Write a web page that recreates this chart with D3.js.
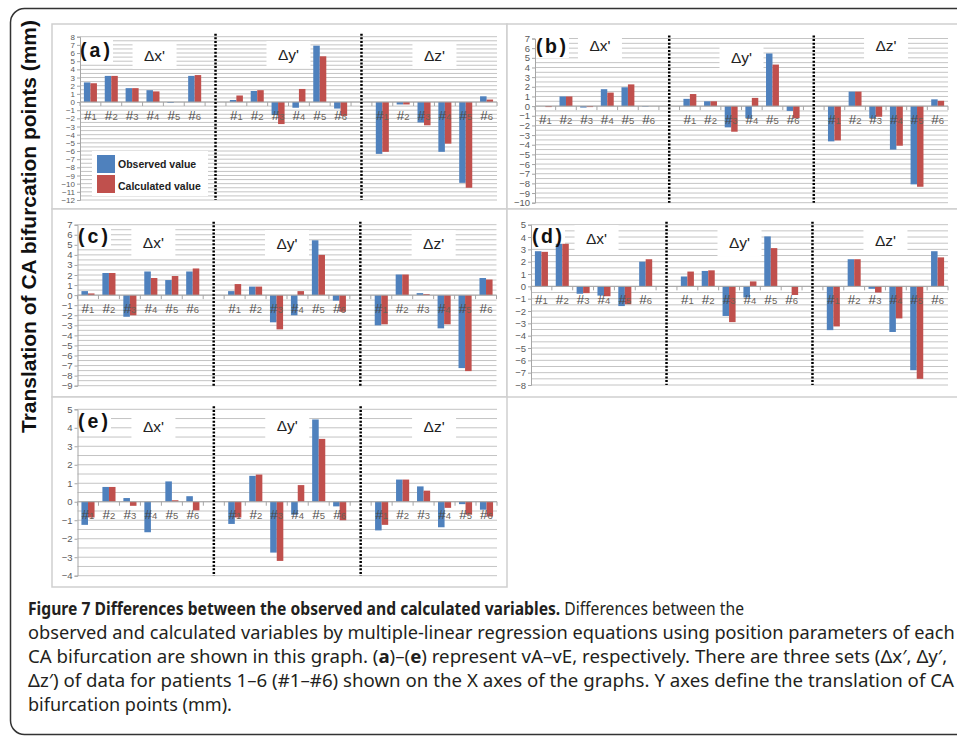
<!DOCTYPE html>
<html>
<head>
<meta charset="utf-8">
<title>Figure 7 - Observed vs calculated</title>
<script src="https://d3js.org/d3.v7.min.js"></script>
<style>
  body { margin: 0; background: #fff; }
  svg { display: block; }
  .tick text { fill: #595959; }
</style>
</head>
<body>
<svg id="fig" width="957" height="739"></svg>
<script>
  // ---- data ----
  const groups = ["Δx'", "Δy'", "Δz'"];
  const patients = ["1", "2", "3", "4", "5", "6"];
  const panelNames = ["(a)", "(b)", "(c)", "(d)", "(e)"];
  const seriesNames = ["Observed value", "Calculated value"];
  const yRanges = [[-12, 8], [-10, 7], [-9, 7], [-8, 5], [-4, 5]];

  // each array: Δx' #1-#6, Δy' #1-#6, Δz' #1-#6
  const observedA = [2.4, 3.2, 1.7, 1.45, -0.1, 3.2, 0.25, 1.35, -1.6, -0.7, 6.9, -0.8, -6.35, -0.3, -2.5, -6.1, -9.9, 0.7];
  const calculatedA = [2.3, 3.2, 1.7, 1.3, 0, 3.3, 0.8, 1.45, -2.7, 1.6, 5.6, -1.7, -6.1, -0.3, -2.85, -5.1, -10.5, 0.3];
  const observedB = [0, 1.0, -0.15, 1.75, 1.95, -0.05, 0.75, 0.5, -2.2, -1.25, 5.45, -0.5, -3.65, 1.5, -1.25, -4.5, -8.1, 0.7];
  const calculatedB = [-0.1, 1.0, -0.1, 1.4, 2.25, 0, 1.25, 0.5, -2.65, 0.85, 4.3, -1.25, -3.55, 1.5, -1.1, -4.1, -8.35, 0.55];
  const observedC = [0.4, 2.2, -2.15, 2.35, 1.5, 2.35, 0.4, 0.85, -2.7, -2.0, 5.45, -0.55, -3.0, 2.05, 0.2, -3.3, -7.25, 1.7];
  const calculatedC = [0.17, 2.2, -2.0, 1.7, 1.9, 2.65, 1.1, 0.85, -3.4, 0.4, 4.0, -1.65, -2.9, 2.05, 0.1, -2.9, -7.55, 1.55];
  const observedD = [2.85, 3.45, -0.6, -0.75, -1.6, 2.0, 0.8, 1.25, -2.4, -0.9, 4.05, 0, -3.55, 2.2, -0.2, -3.7, -6.8, 2.85];
  const calculatedD = [2.8, 3.45, -0.55, -0.8, -1.45, 2.2, 1.2, 1.3, -2.9, 0.4, 3.1, -0.7, -3.25, 2.2, -0.5, -2.6, -7.5, 2.35];
  const observedE = [-1.25, 0.8, 0.2, -1.65, 1.1, 0.3, -1.2, 1.4, -2.75, -0.7, 4.45, -0.25, -1.55, 1.2, 0.83, -1.38, -0.13, -0.43];
  const calculatedE = [-0.85, 0.8, -0.22, 0, 0.08, -0.47, -0.85, 1.47, -3.2, 0.9, 3.4, -1.0, -1.25, 1.2, 0.6, -0.33, -0.7, -0.8];

  const observedAll = [observedA, observedB, observedC, observedD, observedE];
  const calculatedAll = [calculatedA, calculatedB, calculatedC, calculatedD, calculatedE];

  const captionLines = [
    [["Figure 7 Differences between the observed and calculated variables.", true], [" Differences between the", false]],
    [["observed and calculated variables by multiple-linear regression equations using position parameters of each", false]],
    [["CA bifurcation are shown in this graph. (", false], ["a", true], [")–(", false], ["e", true], [") represent vA–vE, respectively. There are three sets (Δx′, Δy′,", false]],
    [["Δz′) of data for patients 1–6 (#1–#6) shown on the X axes of the graphs. Y axes define the translation of CA", false]],
    [["bifurcation points (mm).", false]]
  ];

  // ---- layout (pixels) ----
  const layout = [
    { box: [52, 24, 455, 185], plot: [80, 36.7, 497, 200], titleY: [55, 54, 55], titleDx: 12, tickFont: 8, legend: true },
    { box: [507, 24, 470, 185], plot: [535, 38.5, 948, 202.7], titleY: [45, 57, 45], titleDx: 3, tickFont: 9.5 },
    { box: [52, 209, 455, 188], plot: [77.5, 224.7, 496.5, 385.7], titleY: [242, 243, 243], titleDx: 13, tickFont: 9.5 },
    { box: [507, 209, 470, 188], plot: [531, 224.7, 948, 385], titleY: [238, 242, 240], titleDx: 3, tickFont: 9.5 },
    { box: [52, 397, 455, 190], plot: [77.5, 409.3, 497, 575.7], titleY: [426, 425, 426], titleDx: 13, tickFont: 9.5 }
  ];
  const labelPos = [[80, 57], [536, 53], [78, 243], [532, 243], [78, 428]];

  const colors = { obs: "#4F81BD", calc: "#C0504D" };
  const svg = d3.select("#fig");

  // outer frame
  svg.append("rect")
    .attr("x", 10.5).attr("y", 8.5)
    .attr("width", 980).attr("height", 726)
    .attr("rx", 14)
    .attr("fill", "#fff")
    .attr("stroke", "#333").attr("stroke-width", 1.5);

  // y axis title
  svg.append("text")
    .attr("transform", "translate(36,226.5) rotate(-90)")
    .attr("text-anchor", "middle")
    .attr("font-family", "'Liberation Sans', Arial, sans-serif")
    .attr("font-weight", "bold")
    .attr("font-size", 19.5)
    .attr("textLength", 413)
    .attr("lengthAdjust", "spacingAndGlyphs")
    .attr("fill", "#111")
    .text("Translation of CA bifurcation points (mm)");

  // slot keys: 6 patients per group, with one empty slot between groups
  const slots = [];
  groups.forEach((g, gi) => {
    patients.forEach(p => slots.push(g + "|" + p));
    if (gi < groups.length - 1) slots.push("gap" + gi);
  });

  function drawPanel(i) {
    const L = layout[i];
    const [px0, py0, px1, py1] = L.plot;
    const g = svg.append("g");

    g.append("rect")
      .attr("x", L.box[0]).attr("y", L.box[1])
      .attr("width", L.box[2]).attr("height", L.box[3])
      .attr("fill", "#fff")
      .attr("stroke", "#cfcfcf").attr("stroke-width", 1.5);

    const x = d3.scaleBand().domain(slots).range([px0, px1]);
    const inner = d3.scaleBand().domain(["obs", "calc"]).range([0, x.bandwidth()]).paddingOuter(0.6);
    const y = d3.scaleLinear().domain(yRanges[i]).range([py1, py0]);

    // gridlines every 0.5
    g.append("g").selectAll("line")
      .data(d3.range(yRanges[i][0], yRanges[i][1] + 0.01, 0.5))
      .join("line")
      .attr("x1", px0).attr("x2", px1)
      .attr("y1", d => y(d)).attr("y2", d => y(d))
      .attr("stroke", "#c4c4c4").attr("stroke-width", 1);

    // white boxes behind titles, panel label, legend
    const groupCenter = gi => (x(groups[gi] + "|" + patients[0]) + x(groups[gi] + "|" + patients[5]) + x.bandwidth()) / 2;
    groups.forEach((name, gi) => {
      const cx = groupCenter(gi) + (gi === 0 ? L.titleDx : 0);
      g.append("rect")
        .attr("x", cx - 22).attr("y", L.titleY[gi] - 13)
        .attr("width", 44).attr("height", 27)
        .attr("fill", "#fff");
    });
    g.append("rect")
      .attr("x", labelPos[i][0] - 1).attr("y", labelPos[i][1] - 17)
      .attr("width", 34).attr("height", 22)
      .attr("fill", "#fff");

    // y axis
    const yAxis = d3.axisLeft(y)
      .tickValues(d3.range(yRanges[i][0], yRanges[i][1] + 1))
      .tickSize(3).tickPadding(2)
      .tickFormat(d3.format("d"));
    const ya = g.append("g").attr("transform", `translate(${px0},0)`).call(yAxis);
    ya.select(".domain").attr("stroke", "#a6a6a6");
    ya.selectAll(".tick line").attr("stroke", "#a6a6a6");
    ya.selectAll(".tick text")
      .attr("font-family", "'Liberation Sans', Arial, sans-serif")
      .attr("font-size", L.tickFont);

    // bars
    const rows = [];
    groups.forEach((gname, gi) => patients.forEach((p, pi) => {
      rows.push({ key: gname + "|" + p, s: "obs", v: observedAll[i][gi * 6 + pi] });
      rows.push({ key: gname + "|" + p, s: "calc", v: calculatedAll[i][gi * 6 + pi] });
    }));
    g.append("g").selectAll("rect")
      .data(rows)
      .join("rect")
      .attr("x", d => x(d.key) + inner(d.s))
      .attr("width", inner.bandwidth())
      .attr("y", d => Math.min(y(d.v), y(0)))
      .attr("height", d => Math.abs(y(d.v) - y(0)))
      .attr("fill", d => colors[d.s]);

    // category axis on zero line
    const y0 = y(0);
    g.append("line")
      .attr("x1", px0).attr("x2", px1)
      .attr("y1", y0).attr("y2", y0)
      .attr("stroke", "#a6a6a6").attr("stroke-width", 1);
    g.append("g").selectAll("line")
      .data(slots.map(k => x(k)).concat([px1]))
      .join("line")
      .attr("x1", d => d).attr("x2", d => d)
      .attr("y1", y0).attr("y2", y0 + 4)
      .attr("stroke", "#a6a6a6");

    // group dividers
    g.append("g").selectAll("line")
      .data(slots.filter(k => k.startsWith("gap")))
      .join("line")
      .attr("x1", d => x(d) + x.bandwidth() / 2).attr("x2", d => x(d) + x.bandwidth() / 2)
      .attr("y1", py0 - 3).attr("y2", py1)
      .attr("stroke", "#000").attr("stroke-width", 2.5)
      .attr("stroke-dasharray", "2,1.6");

    // category labels
    const lab = g.append("g").selectAll("text")
      .data(slots.filter(k => !k.startsWith("gap")))
      .join("text")
      .attr("x", d => x(d) + x.bandwidth() / 2)
      .attr("y", y0 + 17.5)
      .attr("text-anchor", "middle")
      .attr("font-family", "'Liberation Sans', Arial, sans-serif");
    lab.append("tspan").attr("font-size", 13.5).attr("fill", "#4a4a4a").text("#");
    lab.append("tspan").attr("font-size", 9.5).attr("fill", "#6b6257").text(d => d.split("|")[1]);

    // group titles
    groups.forEach((name, gi) => {
      const cx = groupCenter(gi) + (gi === 0 ? L.titleDx : 0);
      g.append("text")
        .attr("x", cx).attr("y", L.titleY[gi] + 5.5)
        .attr("text-anchor", "middle")
        .attr("font-family", "'Liberation Sans', Arial, sans-serif")
        .attr("font-size", 15.5)
        .attr("fill", "#222")
        .text(name);
    });

    // panel label
    g.append("text")
      .attr("x", labelPos[i][0]).attr("y", labelPos[i][1])
      .attr("font-family", "'Liberation Sans', Arial, sans-serif")
      .attr("font-weight", "bold")
      .attr("font-size", 19.5)
      .attr("textLength", 30)
      .attr("lengthAdjust", "spacing")
      .attr("fill", "#111")
      .text(panelNames[i]);

    // legend (panel a only)
    if (L.legend) {
      const lg = g.append("g");
      lg.append("rect").attr("x", 92).attr("y", 151).attr("width", 116).attr("height", 45).attr("fill", "#fff");
      ["obs", "calc"].forEach((s, si) => {
        lg.append("rect")
          .attr("x", 97).attr("y", 155 + si * 20)
          .attr("width", 18).attr("height", 18)
          .attr("fill", colors[s]);
        lg.append("text")
          .attr("x", 118).attr("y", 168 + si * 21.5)
          .attr("font-family", "'Liberation Sans', Arial, sans-serif")
          .attr("font-weight", "bold")
          .attr("font-size", 10.5)
          .attr("fill", "#222")
          .text(seriesNames[si]);
      });
    }
  }

  d3.range(5).forEach(drawPanel);

  // caption, each line squeezed to the width in the figure
  const lineEnds = [745, 955, 948, 955, 232];
  captionLines.forEach((parts, li) => {
    const t = svg.append("text")
      .attr("x", 0).attr("y", 0)
      .attr("font-family", "'Noto Sans', 'Open Sans', sans-serif")
      .attr("font-size", 18.5)
      .attr("fill", "#231f20");
    parts.forEach(([txt, bold]) => {
      t.append("tspan").attr("font-weight", bold ? "bold" : "normal").text(txt);
    });
    const w = t.node().getComputedTextLength();
    const sx = (lineEnds[li] - 28) / w;
    t.attr("transform", `translate(28,${615 + li * 24}) scale(${sx},1)`);
  });
</script>
</body>
</html>
